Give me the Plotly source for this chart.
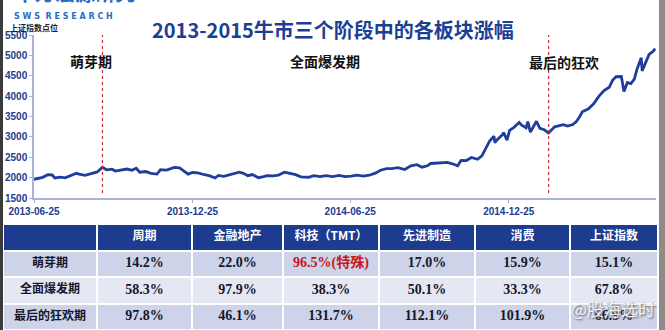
import plotly.graph_objects as go

W, H = 665, 330

# 上证指数收盘点位 (2013-06 ~ 2015-06)
dates = [
    "2013-06-25", "2013-06-28", "2013-07-05", "2013-07-11", "2013-07-16", "2013-07-19",
    "2013-07-26", "2013-07-31", "2013-08-06", "2013-08-13", "2013-08-16", "2013-08-23",
    "2013-08-30", "2013-09-06", "2013-09-12", "2013-09-17", "2013-09-23", "2013-09-27",
    "2013-10-10", "2013-10-16", "2013-10-21", "2013-10-25", "2013-11-01", "2013-11-07",
    "2013-11-14", "2013-11-18", "2013-11-25", "2013-11-29", "2013-12-04", "2013-12-10",
    "2013-12-13", "2013-12-20", "2013-12-25", "2013-12-31", "2014-01-08", "2014-01-14",
    "2014-01-20", "2014-01-24", "2014-01-30", "2014-02-10", "2014-02-17", "2014-02-21",
    "2014-02-27", "2014-03-04", "2014-03-11", "2014-03-17", "2014-03-21", "2014-03-28",
    "2014-04-03", "2014-04-10", "2014-04-16", "2014-04-23", "2014-04-29", "2014-05-08",
    "2014-05-14", "2014-05-21", "2014-05-28", "2014-06-05", "2014-06-12", "2014-06-19",
    "2014-06-26", "2014-07-03", "2014-07-10", "2014-07-17", "2014-07-24", "2014-07-30",
    "2014-08-06", "2014-08-12", "2014-08-19", "2014-08-27", "2014-09-03", "2014-09-10",
    "2014-09-16", "2014-09-22", "2014-09-26", "2014-10-10", "2014-10-15", "2014-10-21",
    "2014-10-27", "2014-10-31", "2014-11-06", "2014-11-12", "2014-11-19", "2014-11-24",
    "2014-11-28", "2014-12-03", "2014-12-08", "2014-12-09", "2014-12-12", "2014-12-18",
    "2014-12-19", "2014-12-23", "2014-12-26", "2014-12-31", "2015-01-06", "2015-01-09",
    "2015-01-14", "2015-01-16", "2015-01-19", "2015-01-26", "2015-01-30", "2015-02-04",
    "2015-02-09", "2015-02-16", "2015-02-26", "2015-03-03", "2015-03-09", "2015-03-13",
    "2015-03-17", "2015-03-20", "2015-03-27", "2015-04-02", "2015-04-08", "2015-04-14",
    "2015-04-20", "2015-04-24", "2015-04-28", "2015-05-04", "2015-05-07", "2015-05-11",
    "2015-05-15", "2015-05-19", "2015-05-22", "2015-05-27", "2015-05-28", "2015-06-01",
    "2015-06-05", "2015-06-10", "2015-06-12",
]
index_close = [
    1959, 1979, 2007, 2072, 2065, 1992,
    2010, 1994, 2051, 2106, 2085, 2057,
    2098, 2139, 2255, 2191, 2207, 2160,
    2211, 2183, 2229, 2133, 2149, 2106,
    2087, 2197, 2186, 2220, 2251, 2237,
    2197, 2085, 2126, 2116, 2071, 2042,
    1992, 2054, 2033, 2086, 2135, 2113,
    2047, 2075, 1999, 2023, 2047, 2041,
    2059, 2134, 2105, 2074, 2020, 2010,
    2047, 2025, 2050, 2025, 2055, 2024,
    2037, 2063, 2038, 2059, 2111, 2182,
    2223, 2223, 2246, 2199, 2288, 2319,
    2256, 2290, 2347, 2374, 2374, 2339,
    2290, 2420, 2419, 2494, 2451, 2533,
    2683, 2900, 3020, 2856, 2938, 3057,
    3108, 2919, 3158, 3235, 3352, 3285,
    3222, 3376, 3116, 3383, 3210, 3174,
    3095, 3247, 3299, 3264, 3302, 3373,
    3502, 3617, 3691, 3811, 3995, 4135,
    4217, 4394, 4476, 4481, 4112, 4333,
    4308, 4417, 4658, 4941, 4620, 4829,
    5023, 5106, 5166,
]

# 阶段分界
phase_breaks = ["2013-09-12", "2015-02-09"]
phase_names = ["萌芽期", "全面爆发期", "最后的狂欢"]

x_ticks = ["2013-06-25", "2013-12-25", "2014-06-25", "2014-12-25"]
y_ticks = [1500, 2000, 2500, 3000, 3500, 4000, 4500, 5000, 5500]

# 各板块涨幅表
sectors = ["周期", "金融地产", "科技（TMT）", "先进制造", "消费", "上证指数"]
periods = ["萌芽期", "全面爆发期", "最后的狂欢期"]
col_cycle = ["14.2%", "58.3%", "97.8%"]
col_finance = ["22.0%", "97.9%", "46.1%"]
col_tmt = ["96.5%(特殊)", "38.3%", "131.7%"]
col_manuf = ["17.0%", "50.1%", "112.1%"]
col_consume = ["15.9%", "33.3%", "101.9%"]
col_sse = ["15.1%", "67.8%", "66.9%"]
highlight = ("科技（TMT）", "萌芽期")

# table column widths (px)
col_widths = [94, 95, 91, 96, 96, 95, 88]

NAVY = "#1d3c8f"
LINE_BLUE = "#1f3e9c"
AXIS_C = "#aab3d6"
CJK = "Noto Sans CJK SC"
NUM_FONT = "Liberation Serif, Noto Sans CJK SC"
DARK = "#15162b"
ROW_DARK = "#cdd3e8"
ROW_LIGHT = "#e5e8f3"


def px(x):
    return x / W


def py(y):
    return 1 - y / H


fig = go.Figure()

# ---- index line ----
fig.add_trace(go.Scatter(
    x=dates, y=index_close, mode="lines",
    line=dict(color=LINE_BLUE, width=2.8),
    hoverinfo="skip", showlegend=False,
))

# ---- table: cell fills as a heatmap on its own axes ----
edges = [0]
for w in col_widths:
    edges.append(edges[-1] + w)
centers = [(edges[i] + edges[i + 1]) / 2 for i in range(len(col_widths))]
n_rows = len(periods) + 1
# 0 = header, 1 = darker row, 2 = lighter row
z = [[0] * len(col_widths)]
for r in range(len(periods)):
    z.append([1 if r % 2 == 0 else 2] * len(col_widths))

fig.add_trace(go.Heatmap(
    x=edges, y=list(range(n_rows)), z=z,
    zmin=0, zmax=2, showscale=False, hoverinfo="skip",
    colorscale=[[0, NAVY], [0.33, NAVY], [0.34, ROW_DARK], [0.66, ROW_DARK],
                [0.67, ROW_LIGHT], [1, ROW_LIGHT]],
    xgap=2, ygap=2, xaxis="x2", yaxis="y2",
))

# header texts
fig.add_trace(go.Scatter(
    x=centers[1:], y=[0] * len(sectors), text=sectors, mode="text",
    textposition="middle center", cliponaxis=False, hoverinfo="skip",
    textfont=dict(family=CJK, size=12, color="white", weight=700),
    xaxis="x2", yaxis="y2", showlegend=False,
))
# row labels
fig.add_trace(go.Scatter(
    x=[centers[0]] * len(periods), y=list(range(1, n_rows)), text=periods, mode="text",
    textposition="middle center", cliponaxis=False, hoverinfo="skip",
    textfont=dict(family=CJK, size=12, color=DARK, weight=700),
    xaxis="x2", yaxis="y2", showlegend=False,
))
# values
value_cols = [col_cycle, col_finance, col_tmt, col_manuf, col_consume, col_sse]
vx, vy, vt, vc = [], [], [], []
for ci, col in enumerate(value_cols):
    for ri, v in enumerate(col):
        vx.append(centers[ci + 1])
        vy.append(ri + 1)
        vt.append(v)
        hot = (sectors[ci], periods[ri]) == highlight
        vc.append("#c8141c" if hot else DARK)
fig.add_trace(go.Scatter(
    x=vx, y=vy, text=vt, mode="text",
    textposition="middle center", cliponaxis=False, hoverinfo="skip",
    textfont=dict(family=NUM_FONT, size=14, color=vc, weight=700),
    xaxis="x2", yaxis="y2", showlegend=False,
))

shapes = []
for d in phase_breaks:
    shapes.append(dict(
        type="line", xref="x", yref="y", x0=d, x1=d, y0=1620, y1=5500,
        line=dict(color="#c0303a", width=1.2, dash="dot"),
    ))
# dark frame edges
shapes.append(dict(type="rect", xref="paper", yref="paper", x0=0, x1=px(3), y0=0, y1=1,
                   fillcolor="#3b3a3a", line=dict(width=0), layer="above"))
shapes.append(dict(type="rect", xref="paper", yref="paper", x0=px(659), x1=1, y0=0, y1=1,
                   fillcolor="#8f8a86", line=dict(width=0), layer="above"))

annotations = [
    dict(text="<b>2013-2015牛市三个阶段中的各板块涨幅</b>", x=px(333), y=py(13),
         font=dict(family=CJK, size=20, color="#1c3f94")),
    dict(text="<b>申万宏源研究</b>", x=px(13), y=py(9), xanchor="left", yanchor="bottom",
         font=dict(family=CJK, size=20, color="#2a6cc0")),
    dict(text="<b>S W S  R E S E A R C H</b>", x=px(12), y=py(10), xanchor="left",
         font=dict(family="DejaVu Sans", size=8, color="#2a6cc0")),
    dict(text="<b>上证指数点位</b>", x=px(8), y=py(20), xanchor="left",
         font=dict(family=CJK, size=8, color="#1a1a2a")),
    dict(text="<b>%s</b>" % phase_names[0], x=px(68), y=py(49),
         font=dict(family=CJK, size=14, color="#111111")),
    dict(text="<b>%s</b>" % phase_names[1], x=px(325), y=py(49),
         font=dict(family=CJK, size=14, color="#111111")),
    dict(text="<b>%s</b>" % phase_names[2], x=px(601), y=py(50),
         font=dict(family=CJK, size=14, color="#111111")),
    dict(text="@股海选时", x=px(657), y=py(323), xanchor="right",
         font=dict(family=CJK, size=17, color="rgba(250,250,250,0.92)",
                   shadow="1px 1px 2px #555555")),
]
for a in annotations:
    a.update(xref="paper", yref="paper", showarrow=False)

fig.update_layout(
    width=W, height=H,
    margin=dict(l=0, r=0, t=0, b=0),
    paper_bgcolor="white", plot_bgcolor="white",
    showlegend=False,
    shapes=shapes, annotations=annotations,
    xaxis=dict(
        domain=[px(34), px(656)], range=["2013-06-25", "2015-06-13"],
        tickmode="array", tickvals=x_ticks, ticktext=x_ticks,
        showgrid=False, zeroline=False, automargin=False,
        showline=True, linecolor=AXIS_C, linewidth=1.5,
        ticks="outside", ticklen=3, tickcolor=AXIS_C,
        tickfont=dict(family="Liberation Sans", size=10, color=NAVY, weight=700),
    ),
    yaxis=dict(
        domain=[py(198), py(35)], range=[1500, 5500],
        tickmode="array", tickvals=y_ticks,
        showgrid=False, zeroline=False, automargin=False,
        showline=True, linecolor=AXIS_C, linewidth=1.5,
        ticks="outside", ticklen=3, tickcolor=AXIS_C,
        tickfont=dict(family="Liberation Sans", size=10, color=NAVY, weight=700),
    ),
    xaxis2=dict(
        domain=[px(3), px(658)], range=[edges[0], edges[-1]],
        visible=False, fixedrange=True, automargin=False,
    ),
    yaxis2=dict(
        domain=[0, py(224)], range=[n_rows - 0.5, -0.5],
        visible=False, fixedrange=True, automargin=False,
    ),
)

fig.write_html("out.html")
